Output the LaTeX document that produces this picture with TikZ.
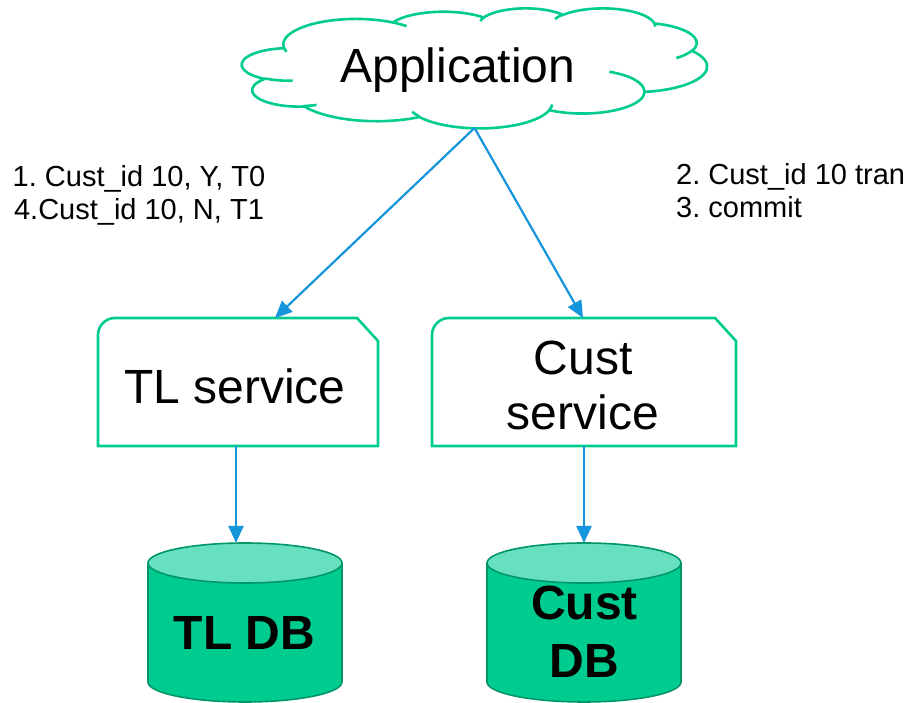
\documentclass[tikz,border=0pt]{standalone}
\usepackage{fontspec}
\setmainfont{Liberation Sans}
\usetikzlibrary{arrows.meta}

\definecolor{outlinegreen}{RGB}{0,204,143}
\definecolor{dbbody}{RGB}{0,204,143}
\definecolor{dbtop}{RGB}{102,224,190}
\definecolor{dbedge}{RGB}{0,150,105}
\definecolor{flowblue}{RGB}{21,150,220}

% One arc of the cloud outline: #1 style name, #2/#3 radii,
% #4 start and #5 sweep given as visual angles (degrees) on the ellipse.
% The style holds the equivalent parametric angles for TikZ's arc.
\newcommand\cloudarcdef[5]{%
  \pgfmathsetmacro\cadA{atan2(#2*sin(#4),#3*cos(#4))}%
  \pgfmathsetmacro\cadB{atan2(#2*sin(#4+#5),#3*cos(#4+#5))}%
  \pgfmathsetmacro\cadD{\cadB-\cadA}%
  \pgfmathsetmacro\cadD{\cadD+360*round((#5-(\cadD))/360)}%
  \edef\cadtmp{\noexpand\tikzset{#1/.style={x radius=#2,y radius=#3,start angle=\cadA,delta angle=\cadD}}}%
  \cadtmp}

% outer outline of the cloud (4320 x 4320 grid, y downwards)
\cloudarcdef{co1}{675.3}{919.0}{-190.4875}{123.7805}
\cloudarcdef{co2}{533.3}{726.7}{-144.1024}{89.9452}
\cloudarcdef{co3}{436.5}{594.5}{-145.8079}{99.7230}
\cloudarcdef{co4}{485.7}{659.5}{-130.9861}{117.2417}
\cloudarcdef{co5}{533.3}{727.3}{-78.7089}{109.0269}
\cloudarcdef{co6}{677.5}{922.0}{-46.2673}{130.2690}
\cloudarcdef{co7}{578.5}{786.7}{0.6250}{114.0333}
\cloudarcdef{co8}{675.2}{921.5}{22.4516}{115.1726}
\cloudarcdef{co9}{772.0}{1054.3}{66.2426}{75.7110}
\cloudarcdef{co10}{436.0}{591.8}{-274.9421}{146.7356}
\cloudarcdef{co11}{434.5}{594.5}{-246.8285}{152.5189}
% inner strokes between the puffs
\cloudarcdef{ci1}{434.5}{594.5}{86.7420}{26.4295}
\cloudarcdef{ci2}{436.0}{591.8}{73.6105}{11.4475}
\cloudarcdef{ci3}{675.2}{921.5}{137.6242}{14.0811}
\cloudarcdef{ci4}{675.2}{921.5}{6.4533}{15.9984}
\cloudarcdef{ci5}{578.5}{786.7}{-70.2924}{70.9174}
\cloudarcdef{ci6}{533.3}{727.3}{30.3180}{27.7515}
\cloudarcdef{ci7}{485.7}{659.5}{-13.7443}{14.8589}
\cloudarcdef{ci8}{485.7}{659.5}{-149.1815}{18.1954}
\cloudarcdef{ci9}{436.5}{594.5}{-163.4943}{17.6864}
\cloudarcdef{ci10}{675.3}{919.0}{-66.7070}{12.3194}
\cloudarcdef{ci11}{675.3}{919.0}{157.6544}{11.8582}

\tikzset{
  shapebox/.style={rectangle, draw=none, inner sep=0pt, outer sep=0pt},
  cloudline/.style={draw=outlinegreen, line width=2.6pt},
  boxline/.style={draw=outlinegreen, line width=2.6pt, fill=white},
  dbline/.style={draw=dbedge, line width=1.6pt},
  flow/.style={draw=flowblue, line width=2.2pt, -{Triangle[length=17pt,width=15pt]}},
  bigtext/.style={inner sep=0pt, font=\fontsize{48}{55}\selectfont},
  dbtext/.style={inner sep=0pt, font=\fontsize{48}{58}\selectfont\bfseries},
  smalltext/.style={inner sep=0pt, font=\fontsize{29}{33}\selectfont},
}

\begin{document}
\frenchspacing
\begin{tikzpicture}[x=1pt, y=1pt]
  \fill[white] (0,0) rectangle (915,703);
  \useasboundingbox (0,0) rectangle (915,703);

  % outlines of the parts
  \node[shapebox, minimum width=465pt, minimum height=120pt] (cloud) at (474.5,635) {};
  \node[shapebox, minimum width=280pt, minimum height=128pt] (tlbox) at (238,321) {};
  \node[shapebox, minimum width=304pt, minimum height=128pt] (csbox) at (584,321) {};
  \node[shapebox, minimum width=194pt, minimum height=159pt] (tldb) at (245,80.5) {};
  \node[shapebox, minimum width=194pt, minimum height=159pt] (cdb) at (584,80.5) {};

  % cloud
  \begin{scope}[shift={(cloud.north west)}, x=0.107639pt, y=-0.0277778pt]
    \draw[cloudline, fill=white] (390,1437)
      arc[co1] arc[co2] arc[co3] arc[co4] arc[co5] arc[co6]
      arc[co7] arc[co8] arc[co9] arc[co10] arc[co11] -- cycle;
    \draw[cloudline]
      (469.3,2617.7) arc[ci1]  (692.8,3489.9) arc[ci2]
      (1647.8,3909.0) arc[ci3] (2882.7,3475.1) arc[ci4]
      (3412.9,2295.4) arc[ci5] (4179.8,1535.4) arc[ci6]
      (3832.4,542.6) arc[ci7]  (2907.8,395.2) arc[ci8]
      (2214.1,472.0) arc[ci9]  (1400.0,519.2) arc[ci10]
      (412.7,1578.9) arc[ci11];
  \end{scope}

  % service boxes: rounded top-left corner, snipped top-right corner
  \foreach \b in {tlbox,csbox}
    \draw[boxline] (\b.south west) -- ([yshift=-17pt]\b.north west)
      arc[start angle=180, end angle=90, radius=17pt]
      -- ([xshift=-21pt]\b.north east) -- ([yshift=-23pt]\b.north east)
      -- (\b.south east) -- cycle;

  % databases
  \foreach \c in {tldb,cdb} {
    \draw[dbline, fill=dbbody] ([yshift=-20pt]\c.north west)
      -- ([yshift=20pt]\c.south west)
      arc[start angle=180, end angle=360, x radius=97pt, y radius=20pt]
      -- ([yshift=-20pt]\c.north east);
    \draw[dbline, fill=dbtop] ([yshift=-20pt]\c.north) ellipse[x radius=97pt, y radius=20pt];
  }

  % texts
  \node[bigtext, anchor=base] (app) at (458,620) {Application};
  \node[bigtext, anchor=base] (tltext) at (235,299) {TL service};
  \node[bigtext, align=center] (cstext) at (583,318) {Cust\\service};
  \node[dbtext, anchor=base] (tldbtext) at (244.5,53) {TL DB};
  \node[dbtext, align=center] (cdbtext) at (584.5,71.5) {Cust\\DB};

  \node[smalltext, anchor=base] (step1) at (139,516) {1. Cust\_id 10, Y, T0};
  \node[smalltext, anchor=base] (step4) at (139,483) {4.Cust\_id 10, N, T1};
  \node[smalltext, anchor=base west] (step2) at (676,518) {2. Cust\_id 10 tran};
  \node[smalltext, anchor=base west] (step3) at (676,485) {3. commit};

  % connectors
  \draw[flow] (cloud.south) -- ([xshift=37pt]tlbox.north);
  \draw[flow] (cloud.south) -- ([xshift=-1pt]csbox.north);
  \draw[flow] ([xshift=-2pt]tlbox.south) -- ([xshift=-2pt]tlbox.south |- tldb.north);
  \draw[flow] (csbox.south) -- (csbox.south |- cdb.north);
\end{tikzpicture}
\end{document}
